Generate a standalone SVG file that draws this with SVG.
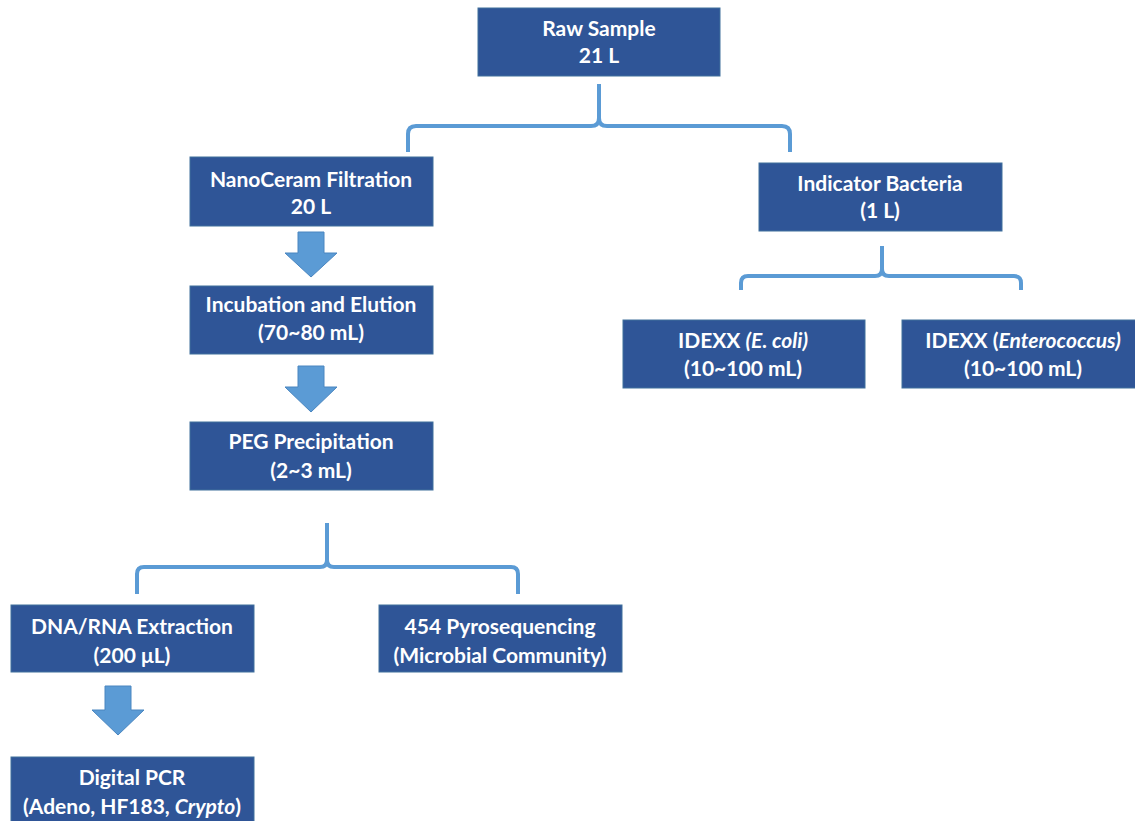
<svg xmlns="http://www.w3.org/2000/svg" width="1135" height="821" viewBox="0 0 1135 821">
<style>
.box{fill:#2F5597;stroke:#41719C;stroke-width:1}
.t{font-family:Lato,"Open Sans","Liberation Sans",sans-serif;font-weight:bold;font-size:21px;fill:#fff;text-anchor:middle}
.br{fill:none;stroke:#5B9BD5;stroke-width:4;stroke-linecap:butt}
.ar{fill:#5B9BD5;stroke:#4A86C0;stroke-width:1}
</style>
<rect width="1135" height="821" fill="#fff"/>
<g id="connectors">
<path class="br" d="M599,84 L599,118 Q599,126 591,126 L416,126 Q408,126 408,134 L408,152 M599,118 Q599,126 607,126 L782,126 Q790,126 790,134 L790,152"/>
<path class="br" d="M882,246 L882,269 Q882,276 875,276 L748,276 Q741,276 741,283 L741,290 M882,269 Q882,276 889,276 L1014,276 Q1021,276 1021,283 L1021,290"/>
<path class="br" d="M327,523 L327,560 Q327,567 320,567 L144,567 Q137,567 137,574 L137,594 M327,560 Q327,567 334,567 L511,567 Q518,567 518,574 L518,594"/>
<polygon class="ar" points="298,232 324,232 324,253 337,253 311,277 285,253 298,253"/>
<polygon class="ar" points="298,366 324,366 324,387 337,387 311,412 285,387 298,387"/>
<polygon class="ar" points="105,686 131,686 131,710 144,710 118,735 92,710 105,710"/>
</g>
<g id="raw"><rect class="box" x="478" y="8" width="242" height="68"/><text class="t" x="599" y="36">Raw Sample</text><text class="t" x="599" y="63">21 L</text></g>
<g id="nano"><rect class="box" x="190" y="157" width="243" height="69"/><text class="t" x="311" y="187">NanoCeram Filtration</text><text class="t" x="311" y="214">20 L</text></g>
<g id="indicator"><rect class="box" x="759" y="163" width="243" height="68"/><text class="t" x="880" y="191">Indicator Bacteria</text><text class="t" x="880" y="218">(1 L)</text></g>
<g id="incubation"><rect class="box" x="190" y="286" width="243" height="68"/><text class="t" x="311" y="312">Incubation and Elution</text><text class="t" x="311" y="340">(70~80 mL)</text></g>
<g id="peg"><rect class="box" x="190" y="422" width="243" height="68"/><text class="t" x="311" y="449">PEG Precipitation</text><text class="t" x="311" y="478">(2~3 mL)</text></g>
<g id="ecoli"><rect class="box" x="623" y="320" width="242" height="68"/><text class="t" x="743" y="348">IDEXX <tspan font-style="italic">(E. coli)</tspan></text><text class="t" x="743" y="376">(10~100 mL)</text></g>
<g id="entero"><rect class="box" x="902" y="320" width="243" height="68"/><text class="t" x="1023" y="348">IDEXX (<tspan font-style="italic">Enterococcus)</tspan></text><text class="t" x="1023" y="376">(10~100 mL)</text></g>
<g id="dna"><rect class="box" x="11" y="605" width="243" height="67"/><text class="t" x="132" y="634">DNA/RNA Extraction</text><text class="t" x="132" y="663">(200 μL)</text></g>
<g id="pyro"><rect class="box" x="379" y="605" width="243" height="67"/><text class="t" x="500" y="634">454 Pyrosequencing</text><text class="t" x="500" y="663">(Microbial Community)</text></g>
<g id="pcr"><rect class="box" x="11" y="757" width="243" height="70"/><text class="t" x="132" y="785">Digital PCR</text><text class="t" x="132" y="814">(Adeno, HF183, <tspan font-style="italic">Crypto</tspan>)</text></g>
</svg>
